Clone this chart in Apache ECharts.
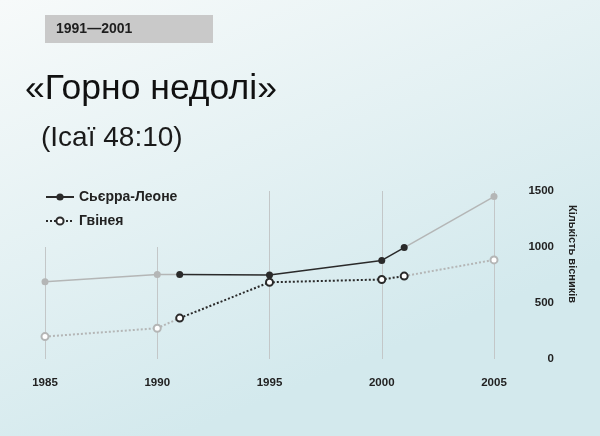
<!DOCTYPE html>
<html>
<head>
<meta charset="utf-8">
<title>Горно недолі</title>
<script src="https://cdn.jsdelivr.net/npm/echarts@6/dist/echarts.min.js"></script>
<style>
    html, body { margin: 0; padding: 0; }
    #main { width: 600px; height: 436px; }
</style>
</head>
<body>
<div id="main"></div>
<script>
// роки і кількість вісників
var years = [1985, 1990, 1991, 1995, 2000, 2001, 2005];
var sierraLeone = [690, 755, 755, 750, 880, 995, 1450];
var guinea = [200, 275, 365, 685, 710, 740, 885];
var darkFrom = 2, darkTo = 5;   // 1991 - 2001 темним кольором

// вертикальні лінії сітки
var gridYears = [1985, 1990, 1995, 2000, 2005];
var gridTops = [1000, 1000, 1500, 1500, 1500];

var seriesNames = ['Сьєрра-Леоне', 'Гвінея'];

var dark = '#2a2a2a';
var gray = '#b4b6b6';
var font = 'Liberation Sans';

// точки з масиву, hide - індекси без маркера
function points(vals, from, to, hide) {
    var arr = [];
    for (var i = from; i <= to; i++) {
        var item = { value: [years[i], vals[i]] };
        if (hide.indexOf(i) > -1) item.symbol = 'none';
        arr.push(item);
    }
    return arr;
}

var gridLines = [];
for (var i = 0; i < gridYears.length; i++) {
    gridLines.push([{ coord: [gridYears[i], 0] }, { coord: [gridYears[i], gridTops[i]] }]);
}

var chart = echarts.init(document.getElementById('main'));

var option = {
    backgroundColor: {
        type: 'linear', x: 0, y: 0, x2: 0.3, y2: 1,
        colorStops: [{ offset: 0, color: '#f7fafa' }, { offset: 1, color: '#d3e9ed' }]
    },
    animation: false,
    graphic: [
        { type: 'rect', shape: { x: 45, y: 15, width: 168, height: 28 }, style: { fill: '#c9c9c9' } },
        { type: 'text', x: 56, y: 29, style: { text: '1991—2001', font: 'bold 14px ' + font, fill: '#1e1e1e', verticalAlign: 'middle' } },
        { type: 'text', x: 25, y: 89, style: { text: '«Горно недолі»', font: '35.5px ' + font, fill: '#111', verticalAlign: 'middle' } },
        { type: 'text', x: 41, y: 138, style: { text: '(Ісаї 48:10)', font: '28px ' + font, fill: '#1a1a1a', verticalAlign: 'middle' } },
        { type: 'text', x: 572, y: 254, rotation: -Math.PI / 2,
          style: { text: 'Кількість вісників', font: 'bold 11px ' + font, fill: '#222', align: 'center', verticalAlign: 'middle' } }
    ],
    legend: {
        data: seriesNames,
        orient: 'vertical',
        left: 45,
        top: 190,
        padding: 0,
        itemWidth: 28,
        itemHeight: 9,
        itemGap: 10,
        textStyle: { fontFamily: font, fontWeight: 'bold', fontSize: 14, color: '#222' }
    },
    grid: { left: 45, right: 106, top: 191, bottom: 77 },
    xAxis: {
        type: 'value',
        min: 1985,
        max: 2005,
        interval: 5,
        axisLine: { show: false },
        axisTick: { show: false },
        splitLine: { show: false },
        axisLabel: { margin: 18, fontFamily: font, fontWeight: 'bold', fontSize: 11.5, color: '#222',
                     formatter: function (v) { return String(v); } }
    },
    yAxis: {
        type: 'value',
        position: 'right',
        min: 0,
        max: 1500,
        interval: 500,
        axisLine: { show: false },
        axisTick: { show: false },
        splitLine: { show: false },
        axisLabel: { align: 'right', margin: 60, fontFamily: font, fontWeight: 'bold', fontSize: 11.5, color: '#222',
                     formatter: function (v) { return String(v); } }
    },
    series: [
        {
            // лінії сітки
            name: 'grid',
            type: 'line',
            data: [],
            z: 1,
            silent: true,
            markLine: {
                silent: true,
                z: 1,
                symbol: ['none', 'none'],
                label: { show: false },
                lineStyle: { color: '#c3c7c8', width: 1, type: 'solid' },
                data: gridLines
            }
        },
        {
            name: 'sl-before', type: 'line', z: 2, symbol: 'circle', symbolSize: 7,
            lineStyle: { color: gray, width: 1.5 }, itemStyle: { color: gray },
            data: points(sierraLeone, 0, darkFrom, [darkFrom])
        },
        {
            name: 'sl-after', type: 'line', z: 2, symbol: 'circle', symbolSize: 7,
            lineStyle: { color: gray, width: 1.5 }, itemStyle: { color: gray },
            data: points(sierraLeone, darkTo, years.length - 1, [darkTo])
        },
        {
            name: 'gn-before', type: 'line', z: 2, symbol: 'emptyCircle', symbolSize: 7,
            lineStyle: { color: gray, width: 2, type: [2, 2] }, itemStyle: { color: gray, borderWidth: 1.5 },
            data: points(guinea, 0, darkFrom, [darkFrom])
        },
        {
            name: 'gn-after', type: 'line', z: 2, symbol: 'emptyCircle', symbolSize: 7,
            lineStyle: { color: gray, width: 2, type: [2, 2] }, itemStyle: { color: gray, borderWidth: 1.5 },
            data: points(guinea, darkTo, years.length - 1, [darkTo])
        },
        {
            name: seriesNames[0], type: 'line', z: 3, symbol: 'circle', symbolSize: 7,
            lineStyle: { color: dark, width: 1.5 }, itemStyle: { color: dark },
            data: points(sierraLeone, darkFrom, darkTo, [])
        },
        {
            name: seriesNames[1], type: 'line', z: 3, symbol: 'emptyCircle', symbolSize: 7,
            lineStyle: { color: dark, width: 2, type: [2, 2] }, itemStyle: { color: dark, borderWidth: 1.5 },
            data: points(guinea, darkFrom, darkTo, [])
        }
    ]
};

chart.setOption(option);
</script>
</body>
</html>
